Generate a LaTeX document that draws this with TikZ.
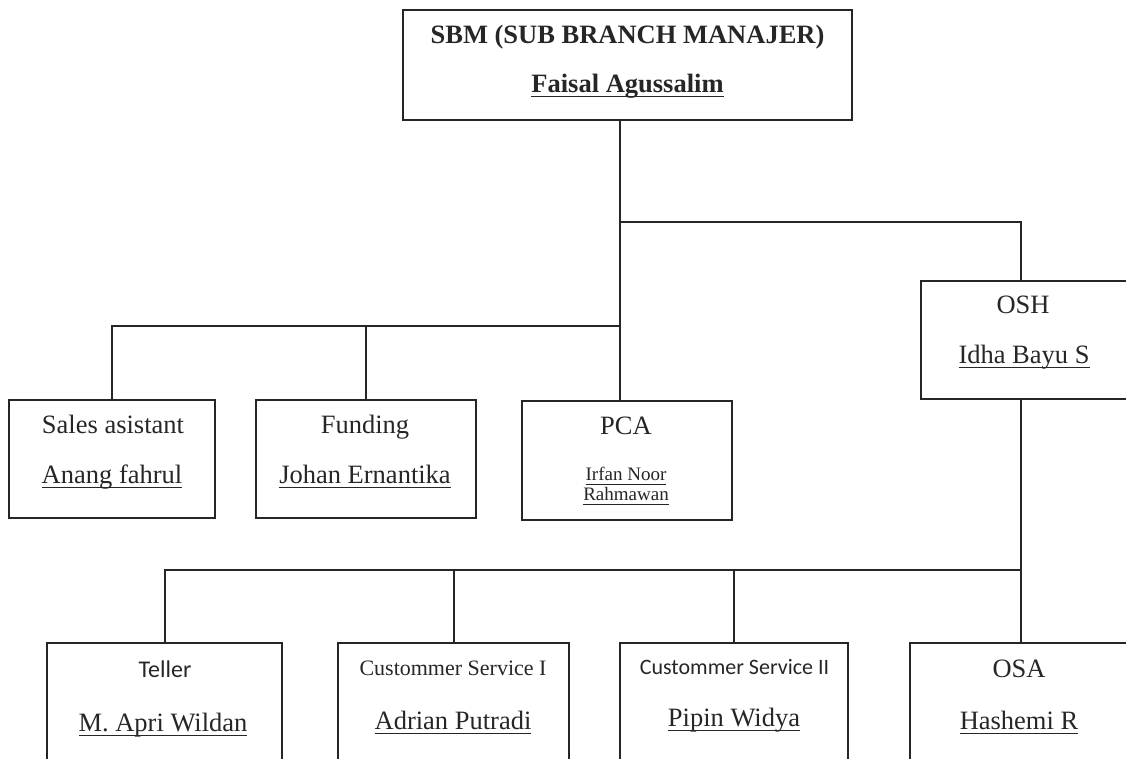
\documentclass[tikz,border=0pt]{standalone}
\usepackage{fontspec}
\setmainfont{Liberation Serif}
\newfontfamily\calibri{Carlito}
\usetikzlibrary{positioning, calc}

\newcommand{\nm}[1]{\setbox0=\hbox{#1}\rlap{\rule[-5pt]{\wd0}{1.4pt}}\box0}

\tikzset{
  box/.style={draw, line width=2pt, inner sep=0pt},
  txt/.style={anchor=base, inner sep=0pt, font=\fontsize{26.5}{30}\selectfont},
  small/.style={anchor=base, inner sep=0pt, font=\fontsize{22}{26}\selectfont},
  tiny/.style={anchor=base, inner sep=0pt, font=\fontsize{19}{20}\selectfont}
}

\begin{document}
\begin{tikzpicture}[x=1pt, y=-1pt, line width=2pt, color=black!85]
  \useasboundingbox (0,0) rectangle (1126,758);
  \clip (0,0) rectangle (1126,758);

  \node[box, minimum width=449, minimum height=110] (sbm) at (627.5,65) {};
  \node[txt] (sbm-t) at (627.5,43) {\textbf{SBM (SUB BRANCH MANAJER)}};
  \node[txt] (sbm-n) at (627.5,92) {\nm{\textbf{Faisal Agussalim}}};

  \node[box, minimum width=206, minimum height=118] (sales) at (112,459) {};
  \node[txt] (sales-t) at (113,433) {Sales asistant};
  \node[txt] (sales-n) at (112,483) {\nm{Anang fahrul}};

  \node[box, minimum width=220, minimum height=118] (fund) at (366,459) {};
  \node[txt] (fund-t) at (365,433) {Funding};
  \node[txt] (fund-n) at (365,483) {\nm{Johan Ernantika}};

  \node[box, minimum width=210, minimum height=119] (pca) at (627,460.5) {};
  \node[txt] (pca-t) at (626,434) {PCA};
  \node[tiny] (pca-n1) at (626,480) {\nm{Irfan Noor}};
  \node[tiny] (pca-n2) at (626,500) {\nm{Rahmawan}};

  \node[box, minimum width=207, minimum height=118] (osh) at (1024.5,340) {};
  \node[txt] (osh-t) at (1023,313) {OSH};
  \node[txt] (osh-n) at (1024,363) {\nm{Idha Bayu S}};

  \node[box, minimum width=235, minimum height=130] (teller) at (164.5,708) {};
  \node[small] (teller-t) at (165,677) {\calibri\fontsize{24}{26}\selectfont Teller};
  \node[txt] (teller-n) at (163,731) {\nm{M. Apri Wildan}};

  \node[box, minimum width=231, minimum height=130] (cs1) at (453.5,708) {};
  \node[small] (cs1-t) at (453,675) {Custommer Service I};
  \node[txt] (cs1-n) at (453,729) {\nm{Adrian Putradi}};

  \node[box, minimum width=228, minimum height=130] (cs2) at (734,708) {};
  \node[small] (cs2-t) at (734.5,674) {\calibri Custommer Service II};
  \node[txt] (cs2-n) at (734,726) {\nm{Pipin Widya}};

  \node[box, minimum width=220, minimum height=130] (osa) at (1020,708) {};
  \node[txt] (osa-t) at (1019,677) {OSA};
  \node[txt] (osa-n) at (1019,729) {\nm{Hashemi R}};

  \coordinate (spine) at (620,222);
  \coordinate (bar1) at (620,326);
  \coordinate (drop) at (1021,222);
  \coordinate (bar2) at (1021,570);

  \draw (sbm.south -| spine) -- (pca.north -| spine);
  \draw (spine) -| (osh.north -| drop);
  \draw (sales.north) |- (bar1);
  \draw (fund.north) -- (fund.north |- bar1);
  \draw (osh.south -| drop) -- (osa.north -| drop);
  \draw (teller.north) |- (bar2);
  \draw (cs1.north) -- (cs1.north |- bar2);
  \draw (cs2.north) -- (cs2.north |- bar2);
\end{tikzpicture}
\end{document}
